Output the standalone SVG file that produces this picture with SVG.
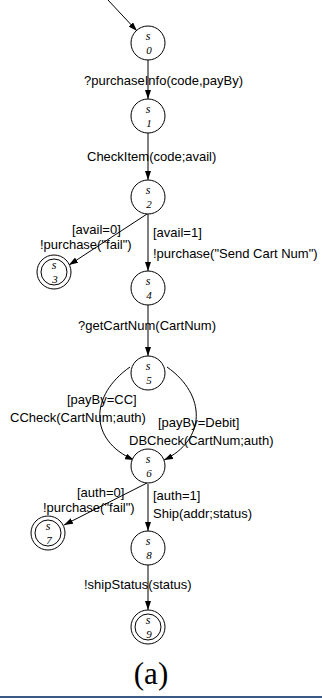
<svg xmlns="http://www.w3.org/2000/svg" width="322" height="698" viewBox="0 0 322 698">
<style>
.st{fill:#fff;stroke:#000;stroke-width:1}
.e{fill:none;stroke:#000;stroke-width:1}
.lb{font-family:"Liberation Sans",Arial,sans-serif;font-size:13px;fill:#000}
.sn{font-family:"Liberation Serif","Times New Roman",serif;font-style:italic;font-size:12px;fill:#000;text-anchor:middle}
.sd{font-family:"Liberation Serif","Times New Roman",serif;font-style:italic;font-size:11px;fill:#000;text-anchor:middle}
.cap{font-family:"Liberation Serif","Times New Roman",serif;font-size:31px;fill:#000;text-anchor:middle}
</style>
<defs>
<marker id="ah" markerWidth="9" markerHeight="6" refX="9" refY="3" orient="auto" markerUnits="userSpaceOnUse">
<path d="M0,0 L9,3 L0,6 Z" fill="#000"/>
</marker>
</defs>
<rect width="322" height="698" fill="#fff"/>
<g id="edges">
<path class="e" d="M108,0 L137,31" marker-end="url(#ah)"/>
<path class="e" d="M148,60 L148,99" marker-end="url(#ah)"/>
<path class="e" d="M148,133 L148,180" marker-end="url(#ah)"/>
<path class="e" d="M147,214 L69,265" marker-end="url(#ah)"/>
<path class="e" d="M148,214 L148,271" marker-end="url(#ah)"/>
<path class="e" d="M148,305 L148,356" marker-end="url(#ah)"/>
<path class="e" d="M130,367 C90,395 88,440 134,460" marker-end="url(#ah)"/>
<path class="e" d="M167,367 C207,395 206,440 164,460" marker-end="url(#ah)"/>
<path class="e" d="M147,483 L64,525" marker-end="url(#ah)"/>
<path class="e" d="M148,484 L148,531" marker-end="url(#ah)"/>
<path class="e" d="M148,565 L148,610" marker-end="url(#ah)"/>
</g>
<g id="s0"><circle class="st" cx="148" cy="43" r="17"/><text class="sn" x="148" y="40">s</text><text class="sd" x="149" y="53.5">0</text></g>
<g id="s1"><circle class="st" cx="148" cy="116" r="17"/><text class="sn" x="148" y="113">s</text><text class="sd" x="149" y="126.5">1</text></g>
<g id="s2"><circle class="st" cx="148" cy="197" r="17"/><text class="sn" x="148" y="194">s</text><text class="sd" x="149" y="207.5">2</text></g>
<g id="s3"><circle class="st" cx="54" cy="272" r="17"/><circle class="st" cx="54" cy="272" r="13"/><text class="sn" x="54" y="269">s</text><text class="sd" x="55" y="282.5">3</text></g>
<g id="s4"><circle class="st" cx="148" cy="288" r="17"/><text class="sn" x="148" y="285">s</text><text class="sd" x="149" y="298.5">4</text></g>
<g id="s5"><circle class="st" cx="148" cy="373" r="17"/><text class="sn" x="148" y="370">s</text><text class="sd" x="149" y="383.5">5</text></g>
<g id="s6"><circle class="st" cx="148" cy="466" r="17"/><text class="sn" x="148" y="463">s</text><text class="sd" x="149" y="476.5">6</text></g>
<g id="s7"><circle class="st" cx="48" cy="533" r="17"/><circle class="st" cx="48" cy="533" r="13"/><text class="sn" x="48" y="530">s</text><text class="sd" x="49" y="543.5">7</text></g>
<g id="s8"><circle class="st" cx="148" cy="548" r="17"/><text class="sn" x="148" y="545">s</text><text class="sd" x="149" y="558.5">8</text></g>
<g id="s9"><circle class="st" cx="148" cy="627" r="17"/><circle class="st" cx="148" cy="627" r="13"/><text class="sn" x="148" y="624">s</text><text class="sd" x="149" y="637.5">9</text></g>
<g id="labels">
<text class="lb" x="84" y="85">?purchaseInfo(code,payBy)</text>
<text class="lb" x="87" y="161">CheckItem(code;avail)</text>
<text class="lb" x="72" y="234">[avail=0]</text>
<text class="lb" x="40" y="249">!purchase("fail")</text>
<text class="lb" x="153" y="237">[avail=1]</text>
<text class="lb" x="153" y="258">!purchase("Send Cart Num")</text>
<text class="lb" x="78" y="330">?getCartNum(CartNum)</text>
<text class="lb" x="67" y="404">[payBy=CC]</text>
<text class="lb" x="10" y="422">CCheck(CartNum;auth)</text>
<text class="lb" x="158" y="427">[payBy=Debit]</text>
<text class="lb" x="129" y="445">DBCheck(CartNum;auth)</text>
<text class="lb" x="77" y="497">[auth=0]</text>
<text class="lb" x="43" y="512">!purchase("fail")</text>
<text class="lb" x="153" y="500">[auth=1]</text>
<text class="lb" x="153" y="518">Ship(addr;status)</text>
<text class="lb" x="84" y="589">!shipStatus(status)</text>
</g>
<text class="cap" x="151" y="684">(a)</text>
<rect x="0" y="696" width="322" height="2" fill="#3a5a85"/>
</svg>
